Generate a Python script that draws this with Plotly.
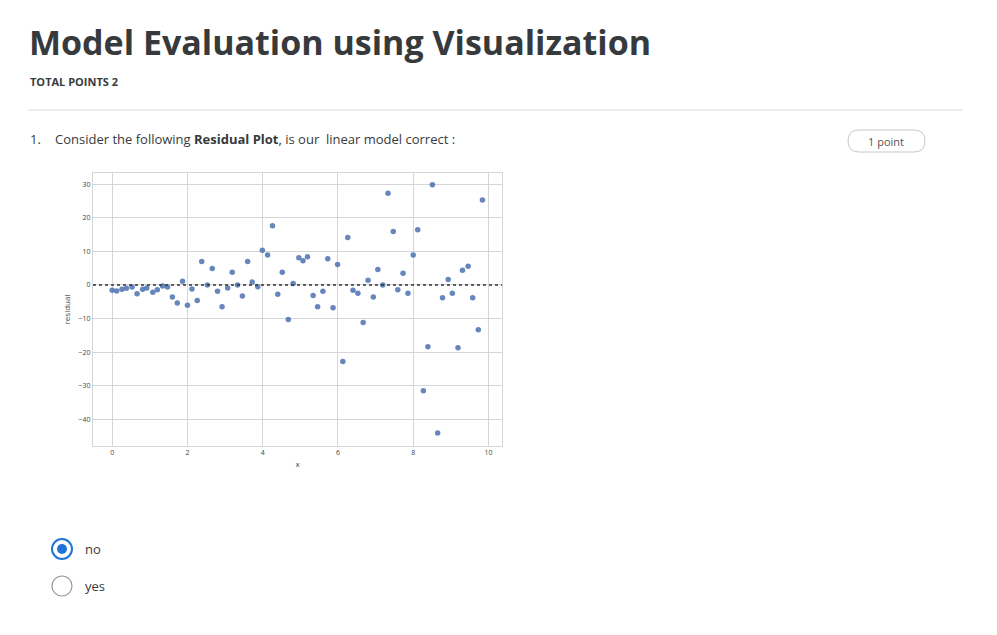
import plotly.graph_objects as go

W, H = 997, 635
OFF = 8  # browser body margin shifts the page

# residual plot data
x_vals = [0, 0.12, 0.26, 0.38, 0.53, 0.66, 0.81, 0.92, 1.08, 1.2, 1.34, 1.47, 1.6, 1.73,
          1.87, 2.0, 2.12, 2.26, 2.38, 2.53, 2.66, 2.8, 2.92, 3.07, 3.19, 3.33, 3.46, 3.6,
          3.72, 3.87, 3.99, 4.13, 4.26, 4.4, 4.52, 4.68, 4.81, 4.96, 5.07, 5.19, 5.34, 5.46,
          5.6, 5.73, 5.87, 5.99, 6.13, 6.26, 6.4, 6.53, 6.67, 6.8, 6.94, 7.06, 7.19, 7.33,
          7.47, 7.59, 7.73, 7.86, 8.0, 8.12, 8.27, 8.39, 8.51, 8.65, 8.78, 8.93, 9.04, 9.19,
          9.31, 9.46, 9.58, 9.73, 9.84]
residuals = [-1.6, -1.8, -1.3, -1, -0.6, -2.6, -1.3, -0.9, -2.2, -1.4, -0.3, -0.6, -3.6, -5.4,
             1.1, -6, -1.2, -4.6, 7, 0, 4.9, -1.9, -6.5, -0.9, 3.8, 0, -3.3, 7,
             0.9, -0.5, 10.3, 8.9, 17.6, -2.8, 3.8, -10.3, 0.4, 8.1, 7.2, 8.4, -3.1, -6.5,
             -1.9, 7.8, -6.8, 6.1, -22.8, 14.1, -1.6, -2.5, -11.2, 1.4, -3.6, 4.6, 0, 27.3,
             15.9, -1.4, 3.5, -2.5, 8.9, 16.4, -31.5, -18.4, 29.8, -44, -3.8, 1.6, -2.5, -18.7,
             4.4, 5.6, -3.8, -13.3, 25.3]
x_ticks = [0, 2, 4, 6, 8, 10]
y_ticks = [30, 20, 10, 0, -10, -20, -30, -40]
options = ["no", "yes"]

def px(x):
    return (x - OFF) / W

def py(y):
    return 1 - (y - OFF) / H

fig = go.Figure()
fig.add_trace(go.Scatter(x=x_vals, y=residuals, mode="markers",
                         marker=dict(color="rgba(76,114,176,0.85)", size=5.5),
                         showlegend=False))

grey = "#d6d6d6"
fig.update_xaxes(domain=[px(93), px(502)], range=[-0.51, 10.36], tickvals=x_ticks,
                 showgrid=True, gridcolor=grey, zeroline=False, showline=True,
                 linecolor=grey, mirror=True, ticks="",
                 tickfont=dict(size=7, color="#444"),
                 title=dict(text="x", font=dict(size=8, color="#444"), standoff=4))
fig.update_yaxes(domain=[py(446), py(173)], range=[-47.9, 33.3], tickvals=y_ticks,
                 showgrid=True, gridcolor=grey, zeroline=False, showline=True,
                 linecolor=grey, mirror=True, ticks="",
                 tickfont=dict(size=7, color="#444"),
                 title=dict(text="residual", font=dict(size=8, color="#444"), standoff=6))

# rounded pill for "1 point"
l, r, t, b = px(848), px(925), py(130), py(152)
rx, ry = 11 / W, 11 / H
pill = (f"M {l+rx},{t} L {r-rx},{t} Q {r},{t} {r},{(t+b)/2} Q {r},{b} {r-rx},{b} "
        f"L {l+rx},{b} Q {l},{b} {l},{(t+b)/2} Q {l},{t} {l+rx},{t} Z")

shapes = [
    dict(type="line", xref="x domain", yref="y", x0=0, x1=1, y0=0, y1=0,
         line=dict(color="#333", width=1.5, dash="dot")),
    dict(type="line", xref="paper", yref="paper", x0=px(28), x1=px(963),
         y0=py(110), y1=py(110), line=dict(color="#dcdcdc", width=1)),
    dict(type="path", xref="paper", yref="paper", path=pill,
         line=dict(color="#c8c8c8", width=1), fillcolor="white", layer="below"),
]
annotations = [
    dict(text="<b>Model Evaluation using Visualization</b>", x=px(27), y=py(42),
         font=dict(size=34, color="#373a3c")),
    dict(text="<b>TOTAL POINTS 2</b>", x=px(28), y=py(81), font=dict(size=11, color="#373a3c")),
    dict(text="1.", x=px(28), y=py(139), font=dict(size=13, color="#373a3c")),
    dict(text="Consider the following <b>Residual Plot</b>, is our  linear model correct :",
         x=px(53), y=py(139), font=dict(size=13, color="#373a3c")),
    dict(text="1 point", x=px(886), y=py(141), xanchor="center",
         font=dict(size=11, color="#555")),
]
radio_y = [549, 586]
for i, (label, yy) in enumerate(zip(options, radio_y)):
    selected = i == 0
    shapes.append(dict(type="circle", xref="paper", yref="paper",
                       x0=px(52), x1=px(72), y0=py(yy + 10), y1=py(yy - 10),
                       line=dict(color="#1f74d6" if selected else "#999", width=2 if selected else 1.2),
                       fillcolor="white"))
    if selected:
        shapes.append(dict(type="circle", xref="paper", yref="paper",
                           x0=px(57), x1=px(67), y0=py(yy + 5), y1=py(yy - 5),
                           line=dict(width=0), fillcolor="#1f74d6"))
    annotations.append(dict(text=label, x=px(83), y=py(yy), font=dict(size=13, color="#373a3c")))

for a in annotations:
    a.update(xref="paper", yref="paper", showarrow=False, yanchor="middle")
    a.setdefault("xanchor", "left")

fig.update_layout(width=W, height=H, margin=dict(l=0, r=0, t=0, b=0),
                  paper_bgcolor="white", plot_bgcolor="white",
                  font=dict(family="Open Sans"), shapes=shapes, annotations=annotations)

fig.write_html("out.html")
